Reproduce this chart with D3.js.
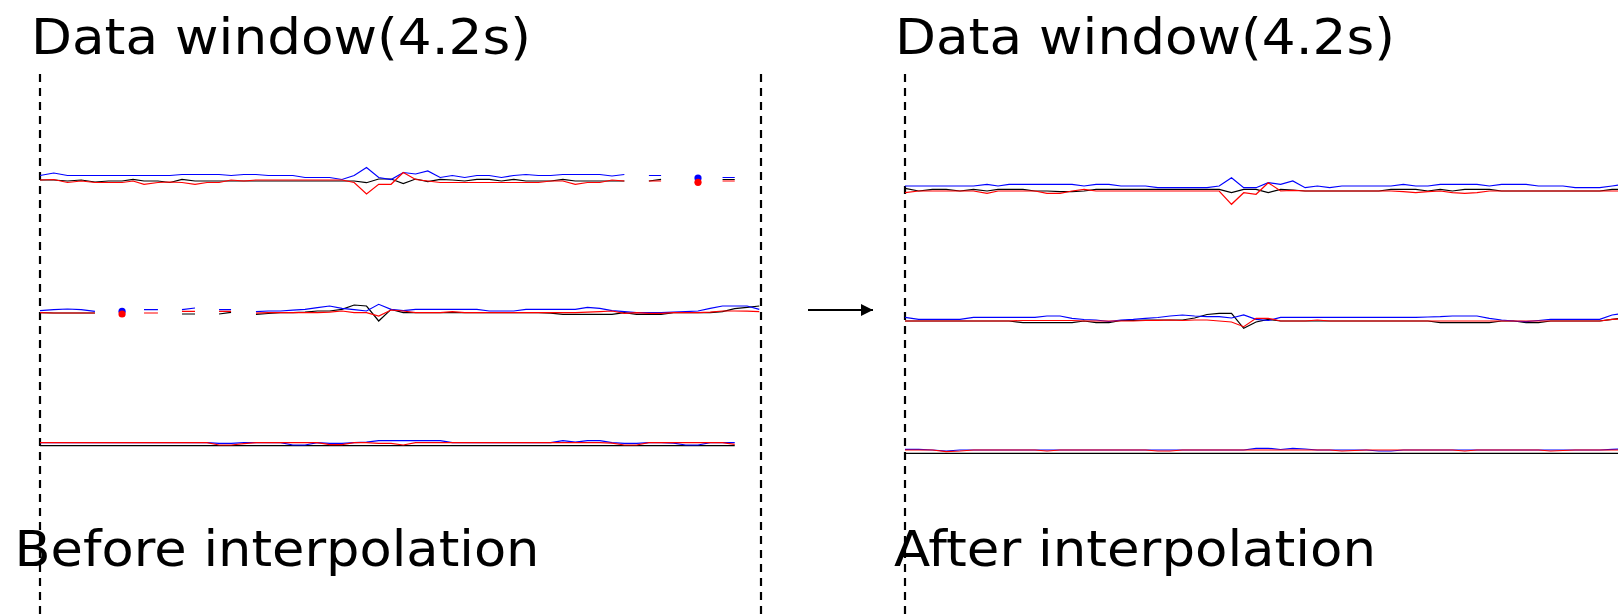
<!DOCTYPE html>
<html>
<head>
<meta charset="utf-8">
<script src="https://cdn.jsdelivr.net/npm/d3@7.9.0/dist/d3.min.js"></script>
<style>
  body { margin: 0; background: #fff; }
  svg { display: block; }
  text { font-family: 'DejaVu Sans', Verdana, sans-serif; font-size: 50px; fill: #000; }
</style>
</head>
<body>
<script>
// sample times (s) inside the 4.2 s window
const times = [0, 0.080, 0.160, 0.240, 0.320, 0.399, 0.478, 0.542, 0.606, 0.687,
  0.757, 0.827, 0.903, 0.973, 1.043, 1.113, 1.188, 1.258, 1.330, 1.401,
  1.473, 1.544, 1.616, 1.687, 1.759, 1.830, 1.902, 1.973, 2.045, 2.116,
  2.188, 2.259, 2.331, 2.402, 2.474, 2.545, 2.617, 2.688, 2.760, 2.831,
  2.903, 2.975, 3.046, 3.118, 3.189, 3.261, 3.332, 3.404, 3.475, 3.547,
  3.618, 3.690, 3.761, 3.833, 3.904, 3.976, 4.047, 4.119, 4.190];

const titles = ['Data window(4.2s)', 'Data window(4.2s)'];
const captions = ['Before interpolation', 'After interpolation'];
const windowSeconds = 4.2;

// before interpolation (null = missing sample)
const b1Blue = [5, 7.5, 5, 5, 5, 5, 5, 5, 5, 5,
  5, 6, 6, 6, 6, 5, 6, 6, 5, 5,
  5, 3, 3, 3, 1, 5, 13, 3, 1, 8,
  6.5, 9.5, 3, 5, 3, 5, 5, 3, 5, 6,
  5, 5, 6, 6, 6, 6, 4.5, 6, null, 5,
  5, null, null, 2.5, null, 3, 3, null, null];
const b1Red = [0.5, 1, -2, -0.5, -2, -2, -2, -0.5, -3.8, -2,
  -1.5, -2, -3.8, -2, -2, 0.5, -0.5, 0.5, 0.5, 0.5,
  0.5, 0.5, 0.5, 0.5, 0.5, -2, -13.5, -3.8, -3.8, 8,
  1, -0.5, -2, -2, -2, -2, -2, -2, -2, -2,
  -2, -0.5, -0.5, -3.8, -2, -2, 0.5, -0.5, null, -0.5,
  -0.5, null, null, -1.8, null, -0.5, -0.5, null, null];
const b1Black = [0.5, 0.5, -0.5, 0.5, -1.5, -0.5, -0.5, 1.2, -0.5, -0.5,
  -2, 1.2, -0.5, -0.5, -0.5, -0.5, -0.5, -0.5, -0.5, -0.5,
  -0.5, -0.5, -0.5, -0.5, -0.5, -0.5, -2.2, 1.5, 1.5, -3,
  1.5, -1.2, 1.2, 0.5, -0.5, 1.2, 1.2, -0.5, 1.2, -0.5,
  -0.5, -0.5, 1.2, -0.5, -0.5, -0.5, -0.5, -0.5, null, -0.5,
  1.2, null, null, null, null, 1, 1, null, null];

const b2Blue = [2, 3, 3.7, 3, 1.4, null, 1.4, null, 3, 3,
  null, 3, 4.7, null, 3, 3, null, 1, 1.7, 1.7,
  2.5, 3.4, 5, 6.7, 4.4, 3, 1.7, 8.4, 3.4, 2,
  3.4, 3.4, 3.4, 3.4, 3.4, 3.4, 1.7, 1.7, 1.7, 3.4,
  3.4, 3.4, 3.4, 3.4, 5.4, 4.4, 2, 1, 0, 0,
  0, 0.5, 1, 1.7, 4.4, 6.7, 6.7, 6.7, 3.4];
const b2Red = [0, -0.3, -0.3, -0.3, -0.3, null, -1.3, null, -0.3, -0.3,
  null, 1.4, 1.4, null, 1.4, 1.4, null, -0.5, 0, 0,
  0, 0, 0, 0.5, 1.7, 0, 0, -3.3, 2.7, 1.7,
  0, 0, 0, 1, 0, 0, 0, 0, 0, 0,
  0, 0, 0, 0, 0.5, 1, 1.7, -0.7, 0, -0.7,
  -0.7, 0, 0, 0, 0.5, 1.7, 1.7, 1.5, 1];
const b2Black = [0, -0.3, -0.3, -0.3, -0.3, null, null, null, null, null,
  null, -1.3, -1.3, null, -1.3, 0.4, null, -1.6, -0.8, 0,
  0, 0.5, 1.7, 1.7, 3.4, 7.7, 6.7, -8.3, 3.4, 0,
  0, 0, 0, 0, 0, 0, 0, 0, 0, 0,
  0, -0.5, -1.6, -1.6, -1.6, -1.6, -1.6, 0, -1.6, -1.6,
  -1.6, 0, 0, 0, 0, 1, 4, 5.4, 6.7];

const b3Blue = [0, 0, 0, 0, 0, 0, 0, 0, 0, 0,
  0, 0, 0, 0, -0.7, -0.7, 0, 0, 0, 0,
  -2.3, -2.3, 0, -0.7, -0.7, 0, 0.5, 2, 2, 2,
  2, 2, 2, 0, 0, 0, 0, 0, 0, 0,
  0, 0, 2, 0.5, 2, 2, 0, -0.7, -0.7, 0,
  0, -0.5, -2.3, -2.3, 0, 0, 0, null, null];
const b3Red = [0, 0, 0, 0, 0, 0, 0, 0, 0, 0,
  0, 0, 0, 0, -2.3, -2.3, -1, 0, 0, 0,
  0, 0, 0, -2, -2, 0, 0, -0.7, -0.7, -2.3,
  0, 0, 0, 0, 0, 0, 0, 0, 0, 0,
  0, 0, 0, 0, 0, 0, -0.5, -2.3, -2.3, 0,
  0, 0, 0, 0, 0, 0, -1.7, null, null];
const b3Black = [-3, -3, -3, -3, -3, -3, -3, -3, -3, -3,
  -3, -3, -3, -3, -3, -3, -3, -3, -3, -3,
  -3, -3, -3, -3, -3, -3, -3, -3, -3, -3,
  -3, -3, -3, -3, -3, -3, -3, -3, -3, -3,
  -3, -3, -3, -3, -3, -3, -3, -3, -3, -3,
  -3, -3, -3, -3, -3, -3, -3, null, null];

// after interpolation
const a1Blue = [3.3, 3.3, 3.3, 3.3, 3.3, 3.3, 5, 3.3, 5, 5,
  5, 5, 5, 5, 3.3, 5, 5, 3.3, 3.3, 3.3,
  1.6, 1.6, 1.6, 1.6, 1.6, 3.3, 11.6, 1.6, 1.6, 6.6,
  5, 8.3, 1.6, 3.3, 1.6, 3.3, 3.3, 3.3, 3.3, 3.3,
  5, 3.3, 3.3, 5, 5, 5, 5, 3.3, 5, 5,
  5, 3.3, 3.3, 3.3, 1.6, 1.6, 1.6, 3.3, 5];
const a1Red = [-3.4, -1.7, -1.7, -1.7, -1.7, -1.7, -4, -1.7, -1.7, -1.7,
  -1.7, -4, -4, -1.7, 0, -1.7, -1.7, -1.7, -1.7, -1.7,
  -1.7, -1.7, -1.7, -1.7, -1.7, -1.7, -15, -3.4, -5, 6.6,
  -1.7, -1, -1.7, -1.7, -1.7, -1.7, -1.7, -1.7, -1.7, -1.7,
  -2.4, -3.4, -2.4, -1.7, -3.4, -4, -3.4, -1.7, -1.7, -1.7,
  -1.7, -1.7, -1.7, -1.7, -1.7, -1.7, -1.7, -1.7, -1.7];
const a1Black = [1, -1.7, 0, 0, -1.7, 0, -1.7, 0, 0, 0,
  -1.7, -1.7, -2.4, -2.4, -1.7, 0, 0, 0, 0, 0,
  0, 0, 0, 0, 0, 0, -3.4, 0, 0, -3.4,
  0, -0.7, -1.7, -1.7, -1.7, -1.7, -1.7, -1.7, -1.7, 0,
  0, 0, -1.7, 0, -1.7, 0, 0, 0, -1.7, -1.7,
  -1.7, -1.7, -1.7, -1.7, -1.7, -1.7, -1.7, 0, 0];

const a2Blue = [3.7, 1.7, 1.7, 1.7, 1.7, 3.7, 3.7, 3.7, 3.7, 3.7,
  3.7, 5, 5, 2.7, 1.5, 1, -0.5, 1, 1.7, 2.7,
  3.5, 5, 6, 5, 4.3, 4.3, 3, 6, 1.7, 0.5,
  3.7, 3.7, 3.7, 3.7, 3.7, 3.7, 3.7, 3.7, 3.7, 3.7,
  3.7, 3.7, 4, 4.3, 5, 5, 5, 2.7, 1, 0,
  -0.7, 0.5, 1.7, 1.7, 1.7, 1.7, 1.7, 6, 8];
const a2Red = [0, 0, 0, 0, 0, 0, 0, 0, 0, 0.5,
  0.5, 0.5, 0.5, 0.5, 0, 0, 0, 0, 0, 0.5,
  0.7, 1, 0.5, 1, 1, 0, -1, -5.7, 2.7, 2.7,
  0, 0, 0, 1, 0, 0, 0, 0, 0, 0,
  0, 0, 0, 0, 0, 0, 0, 0, 0, 0,
  0, 0, 0, 0, 0, 0, 0, 1.7, 2];
const a2Black = [0, 0, 0, 0, 0, 0, 0, 0, 0, -1.7,
  -1.7, -1.7, -1.7, -1.7, 0, -1.7, -1.7, 0.5, 0.5, 1,
  1, 1, 1, 3, 6.5, 7.7, 7.7, -7.3, -1, 1.7,
  0, 0, 0, 0, 0, 0, 0, 0, 0, 0,
  0, 0, 0, -1.7, -1.7, -1.7, -1.7, -1.7, 0, 0,
  -1.7, -1.7, 0, 0, 0, 0, 0, 1.7, 3];

const a3Blue = [0.7, 0.7, 0, -1, 0, 0, 0, 0, 0, 0,
  0, 0, 0, 0, 0, 0, 0, 0, 0, 0,
  0, 0, 0, 0, 0, 0, 0, 0, 1.7, 1.7,
  0.5, 1.7, 1, 0, 0, 0, 0, 0, -1, -1,
  0, 0, 0, 0, 0, 0, 0, 0, 0, 0,
  0, 0, 0, 0, 0, 0, 0, 0.7, 1];
const a3Red = [0, 0, 0, -1.7, -1, 0, 0, 0, 0, 0,
  0, -1, 0, 0, 0, 0, 0, 0, 0, 0,
  -1, -1, 0, 0, 0, 0, 0, 0, 0, 0,
  0, 0, 0, 0, 0, -1, -0.5, 0, 0, 0,
  0, 0, 0, 0, 0, -1, 0, 0, 0, 0,
  0, 0, -1, -0.5, 0, 0, 0, 0, 0];
const a3Black = [-3.3, -3.3, -3.3, -3.3, -3.3, -3.3, -3.3, -3.3, -3.3, -3.3,
  -3.3, -3.3, -3.3, -3.3, -3.3, -3.3, -3.3, -3.3, -3.3, -3.3,
  -3.3, -3.3, -3.3, -3.3, -3.3, -3.3, -3.3, -3.3, -3.3, -3.3,
  -3.3, -3.3, -3.3, -3.3, -3.3, -3.3, -3.3, -3.3, -3.3, -3.3,
  -3.3, -3.3, -3.3, -3.3, -3.3, -3.3, -3.3, -3.3, -3.3, -3.3,
  -3.3, -3.3, -3.3, -3.3, -3.3, -3.3, -3.3, -3.3, -3.3];

const width = 1618;
const height = 615;

const svg = d3.select('body').append('svg')
  .attr('width', width)
  .attr('height', height);

const panels = [
  {
    left: 40, right: 761, title: titles[0], caption: captions[0],
    titleX: 31, titleW: 500, capX: 14.5, capW: 525,
    rows: [
      { base: 180.5, series: [b1Black, b1Blue, b1Red] },
      { base: 312.7, series: [b2Black, b2Blue, b2Red] },
      { base: 442.7, series: [b3Black, b3Blue, b3Red] },
    ],
  },
  {
    left: 905, right: 1626, title: titles[1], caption: captions[1],
    titleX: 895, titleW: 500, capX: 894, capW: 482,
    rows: [
      { base: 189.3, series: [a1Black, a1Blue, a1Red] },
      { base: 321, series: [a2Black, a2Blue, a2Red] },
      { base: 450, series: [a3Black, a3Blue, a3Red] },
    ],
  },
];

const colors = ['#000000', '#0000ff', '#ff0000'];

panels.forEach((p, pi) => {
  let x = d3.scaleLinear().domain([0, windowSeconds]).range([p.left, p.right]);

  // window borders
  let borders = pi === 0 ? [0, windowSeconds] : [0];
  borders.forEach((t) => {
    svg.append('line')
      .attr('x1', x(t)).attr('x2', x(t))
      .attr('y1', 74).attr('y2', height)
      .attr('stroke', '#000')
      .attr('stroke-width', 2.2)
      .attr('stroke-dasharray', '8,6');
  });

  p.rows.forEach((row) => {
    let y = d3.scaleLinear().domain([-20, 20]).range([row.base + 20, row.base - 20]);
    let line = d3.line()
      .defined((d) => d[1] != null)
      .x((d) => x(d[0]))
      .y((d) => y(d[1]));

    row.series.forEach((values, si) => {
      let pts = times.map((t, i) => [t, values[i]]);
      svg.append('path')
        .datum(pts)
        .attr('d', line)
        .attr('fill', 'none')
        .attr('stroke', colors[si])
        .attr('stroke-width', 1.2);

      // lone samples show up as dots
      let lone = pts.filter((d, i) => d[1] != null &&
        (i === 0 || pts[i - 1][1] == null) &&
        (i === pts.length - 1 || pts[i + 1][1] == null));
      svg.selectAll(null)
        .data(lone)
        .enter()
        .append('circle')
        .attr('cx', (d) => x(d[0]))
        .attr('cy', (d) => y(d[1]))
        .attr('r', 3.6)
        .attr('fill', colors[si]);
    });
  });

  svg.append('text')
    .attr('x', p.titleX)
    .attr('y', 54)
    .attr('textLength', p.titleW)
    .attr('lengthAdjust', 'spacingAndGlyphs')
    .text(p.title);

  svg.append('text')
    .attr('x', p.capX)
    .attr('y', 566)
    .attr('textLength', p.capW)
    .attr('lengthAdjust', 'spacingAndGlyphs')
    .text(p.caption);
});

// arrow between the panels
svg.append('defs').append('marker')
  .attr('id', 'head')
  .attr('viewBox', '0 0 10 10')
  .attr('refX', 10).attr('refY', 5)
  .attr('markerWidth', 7).attr('markerHeight', 6)
  .attr('markerUnits', 'strokeWidth')
  .attr('orient', 'auto')
  .append('path')
  .attr('d', 'M0,0L10,5L0,10z')
  .attr('fill', '#000');

svg.append('line')
  .attr('x1', 808).attr('x2', 873)
  .attr('y1', 310).attr('y2', 310)
  .attr('stroke', '#000')
  .attr('stroke-width', 2)
  .attr('marker-end', 'url(#head)');
</script>
</body>
</html>
